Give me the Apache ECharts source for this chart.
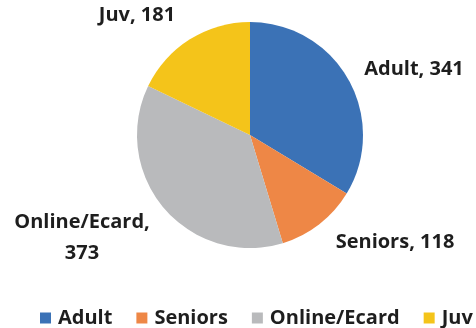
<!DOCTYPE html>
<html>
<head>
<meta charset="utf-8">
<script src="https://cdn.jsdelivr.net/npm/echarts@6/dist/echarts.min.js"></script>
<style>
  html, body { margin: 0; padding: 0; background: #fff; }
  #chart { width: 476px; height: 328px; }
</style>
</head>
<body>
<div id="chart"></div>
<script>
// Membership counts by category
const categories = ['Adult', 'Seniors', 'Online/Ecard', 'Juv'];
const counts = [341, 118, 373, 181];
const colors = ['#3b72b6', '#ee8746', '#b9babc', '#f4c41a'];

// Label anchor points (canvas px) for each slice's text
const labelSpots = [
  { x: 414, y: 69 },
  { x: 395, y: 242 },
  { x: 82, y: 238 },
  { x: 137, y: 15 }
];

const font = '"Open Sans", "Noto Sans", sans-serif';

const chart = echarts.init(document.getElementById('chart'), null, { renderer: 'canvas' });

chart.setOption({
  animation: false,
  color: colors,
  legend: {
    data: categories,
    left: 35,
    top: 303,
    width: 800,
    orient: 'horizontal',
    itemWidth: 11,
    itemHeight: 11,
    itemGap: 24,
    icon: 'rect',
    textStyle: { fontFamily: font, fontWeight: 'bold', fontSize: 20, color: '#1e1e1e', padding: [0, 0, 0, 2] }
  },
  series: [{
    type: 'pie',
    center: [250, 135],
    radius: 113,
    startAngle: 90,
    clockwise: true,
    data: categories.map((c, i) => ({ name: c, value: counts[i] })),
    label: {
      show: true,
      position: 'outside',
      overflow: 'none',
      formatter: p => p.name === 'Online/Ecard' ? p.name + ',\n' + p.value : p.name + ', ' + p.value,
      fontFamily: font,
      fontWeight: 'bold',
      fontSize: 20,
      lineHeight: 31,
      color: '#1e1e1e'
    },
    labelLine: { show: false },
    labelLayout: function (params) {
      const s = labelSpots[params.dataIndex];
      return { x: s.x, y: s.y, align: 'center', verticalAlign: 'middle' };
    },
    itemStyle: { borderWidth: 0 },
    emphasis: { disabled: true }
  }]
});
</script>
</body>
</html>
